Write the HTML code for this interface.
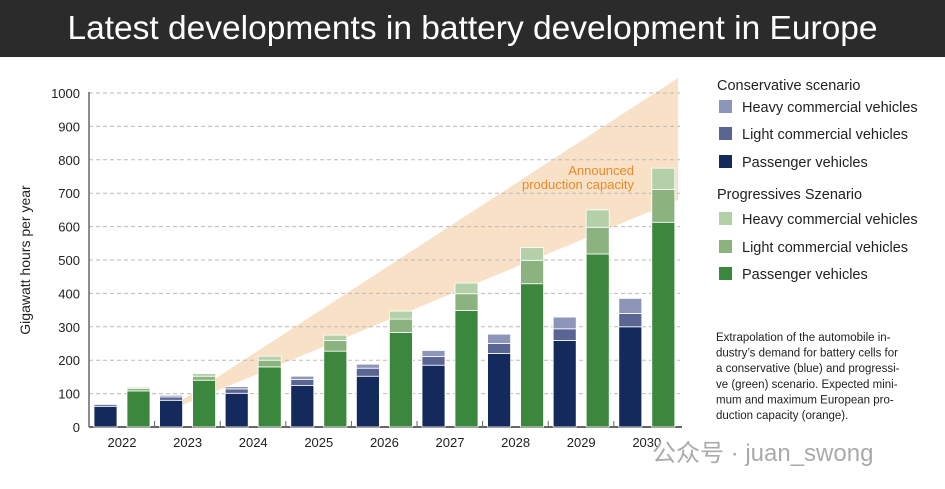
<!DOCTYPE html>
<html><head><meta charset="utf-8"><style>
body{margin:0;width:945px;height:489px;background:#fff;overflow:hidden;font-family:"Liberation Sans","Noto Sans CJK SC",sans-serif}
#title{position:absolute;left:0;top:0;width:945px;height:57px;background:#2b2b2b;color:#fff;font-size:33.5px;text-align:center;line-height:57px}
svg{position:absolute;left:0;top:0}
</style></head><body>
<div id="title">Latest developments in battery development in Europe</div>
<svg id="c" width="945" height="489"></svg>
<script>
const years=["2022","2023","2024","2025","2026","2027","2028","2029","2030"];
const consP=[62,80,101,124,152,185,220,259,300];
const consL=[5,10,13,18,24,26,30,35,40];
const consH=[3,5,7,10,12,18,28,35,45];
const progP=[108,140,180,227,283,349,429,518,613];
const progL=[7,12,20,32,40,50,70,80,98];
const progH=[4,8,12,16,24,32,38,52,64];
const yTicks=[0,100,200,300,400,500,600,700,800,900,1000];
const bandUpper=[[1.43,82],[8.98,1045]];
const bandLower=[[1.43,66],[8.98,680]];
const NS="http://www.w3.org/2000/svg";
const svg=document.getElementById('c');
const X0=89,GW=65.6,Y0=427,K=0.334;
const xs=i=>X0+i*GW;
const y=v=>Y0-v*K;
function mk(t,a){const e=document.createElementNS(NS,t);for(const k in a)e.setAttribute(k,a[k]);svg.appendChild(e);return e;}
const bx=f=>X0+f*GW;
const band=mk('polygon',{points:`${bx(bandLower[0][0])},${y(bandLower[0][1])} ${bx(bandUpper[0][0])},${y(bandUpper[0][1])} ${bx(bandUpper[1][0])},${y(bandUpper[1][1])} ${bx(bandLower[1][0])},${y(bandLower[1][1])}`,fill:'#f8e1c6'});


yTicks.forEach(v=>{
 if(v>0){const g=mk('line',{x1:X0,x2:680,y1:y(v),y2:y(v),stroke:'#bbb','stroke-dasharray':'4,3','stroke-width':1});
 
 }
 const t=mk('text',{x:80,y:y(v)+5,'text-anchor':'end','font-size':13,fill:'#222'});t.textContent=v;
 
 
});
mk('line',{x1:X0,x2:X0,y1:92,y2:Y0,stroke:'#666','stroke-width':1.5});
mk('line',{x1:X0,x2:682,y1:Y0,y2:Y0,stroke:'#666','stroke-width':2});
const yt=mk('text',{x:30,y:260,transform:'rotate(-90 30 260)','text-anchor':'middle','font-size':14,fill:'#222'});yt.textContent='Gigawatt hours per year';


function stack(x,vals,cols,name){let base=0;vals.forEach((v,j)=>{const r=mk('rect',{x:x,y:y(base+v),width:23,height:v*K,fill:cols[j],stroke:'#fff','stroke-width':0.8});
 
 base+=v;});}
years.forEach((yr,i)=>{
 stack(xs(i)+5,[consP[i],consL[i],consH[i]],['#142a5c','#5b6594','#8d95b8'],'cons-bar-'+yr);
 stack(xs(i)+38,[progP[i],progL[i],progH[i]],['#3a873d','#8cb27f','#b4d0a9'],'prog-bar-'+yr);
 if(i>0){mk('line',{x1:xs(i),x2:xs(i),y1:Y0-6,y2:Y0,stroke:'#666'});}
 const t=mk('text',{x:xs(i)+33,y:447,'text-anchor':'middle','font-size':13,fill:'#222'});t.textContent=yr;
 
 
});
const a1=mk('text',{x:634,y:175,'text-anchor':'end','font-size':13,fill:'#e8892a'});a1.textContent='Announced';


const a2=mk('text',{x:634,y:189,'text-anchor':'end','font-size':13,fill:'#e8892a'});a2.textContent='production capacity';


const leg=[['h','Conservative scenario',90],['#8d95b8','Heavy commercial vehicles',111],['#5b6594','Light commercial vehicles',138],['#142a5c','Passenger vehicles',166],['h','Progressives Szenario',199],['#b4d0a9','Heavy commercial vehicles',223],['#8cb27f','Light commercial vehicles',251],['#3a873d','Passenger vehicles',278]];
leg.forEach(l=>{
 if(l[0]==='h'){const t=mk('text',{x:717,y:l[2],'font-size':14.5,fill:'#222'});t.textContent=l[1];
  
  }
 else{mk('rect',{x:719,y:l[2]-11,width:13,height:13,fill:l[0]});
  const t=mk('text',{x:742,y:l[2]+1,'font-size':14.5,fill:'#222'});t.textContent=l[1];
  
  }
});
const notes=["Extrapolation of the automobile in-","dustry’s demand for battery cells for","a conservative (blue) and progressi-","ve (green) scenario. Expected mini-","mum and maximum European pro-","duction capacity (orange)."];
notes.forEach((n,i)=>{const t=mk('text',{x:716,y:341+i*15.6,'font-size':11.5,fill:'#222'});t.textContent=n;
 
 });
const w=mk('text',{x:652,y:461,'font-size':24,fill:'#aaa'});w.textContent='公众号 · juan_swong';


</script>
</body></html>
